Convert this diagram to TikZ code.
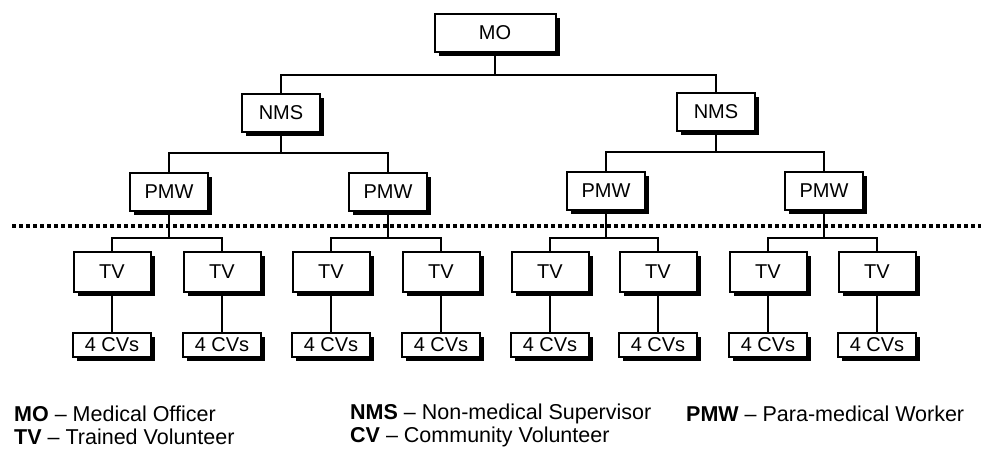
\documentclass[tikz,border=0pt]{standalone}
\usepackage{fontspec}
\setmainfont{Liberation Sans}
\usetikzlibrary{shadows}
\tikzset{
  box/.style={draw=black, line width=2pt, fill=white, inner sep=0pt,
    font=\fontsize{20}{23}\selectfont,
    drop shadow={shadow xshift=4pt, shadow yshift=-4pt, opacity=1, fill=black}},
  mobox/.style={box, minimum width=121pt, minimum height=38pt},
  nmsbox/.style={box, minimum width=78pt, minimum height=38pt},
  pmwbox/.style={box, minimum width=78pt, minimum height=38pt},
  tvbox/.style={box, minimum width=77pt, minimum height=40pt},
  cvbox/.style={box, minimum width=78pt, minimum height=24pt},
  link/.style={draw=black, line width=2pt},
  sep/.style={draw=black, line width=4pt, dash pattern=on 4pt off 3pt},
  legend/.style={anchor=west, inner sep=0pt, font=\fontsize{21.5}{25}\selectfont}
}
\begin{document}
\begin{tikzpicture}[x=1pt, y=-1pt]
\useasboundingbox (0,0) rectangle (981,461);
% separator
\coordinate (sepL) at (12,226);
\coordinate (sepR) at (981,226);
\draw[sep] (sepL) -- (sepR);
% nodes
\node[mobox] (mo) at (495,33) {MO};
\node[nmsbox] (nms1) at (281,113) {NMS};
\node[nmsbox] (nms2) at (716,112) {NMS};
\node[pmwbox] (p1) at (169,192) {PMW};
\node[pmwbox] (p2) at (388,192) {PMW};
\node[pmwbox] (p3) at (606,191) {PMW};
\node[pmwbox] (p4) at (824,191) {PMW};
\foreach \i/\x in {1/112,2/222,3/331,4/441,5/550,6/658,7/768,8/877}{
  \node[tvbox] (tv\i) at (\x,272) {TV};
  \node[cvbox] (cv\i) at (\x,345) {4 CVs};
}
% junctions
\coordinate (j0) at (496,75);
\coordinate (j1) at (281,153);
\coordinate (j2) at (716,152);
\coordinate (k1) at (169,238);
\coordinate (k2) at (388,238);
\coordinate (k3) at (606,238);
\coordinate (k4) at (824,238);
% connectors
\draw[link] (mo.south) -- (mo.south |- j0);
\draw[link] (nms1.north) |- (j0) -| (nms2.north);
\draw[link] (nms1.south) -- (j1);
\draw[link] (p1.north) |- (j1) -| (p2.north);
\draw[link] (nms2.south) -- (j2);
\draw[link] (p3.north) |- (j2) -| (p4.north);
\draw[link] (p1.south) -- (k1);
\draw[link] (tv1.north) |- (k1) -| (tv2.north);
\draw[link] (p2.south) -- (k2);
\draw[link] (tv3.north) |- (k2) -| (tv4.north);
\draw[link] (p3.south) -- (k3);
\draw[link] (tv5.north) |- (k3) -| (tv6.north);
\draw[link] (p4.south) -- (k4);
\draw[link] (tv7.north) |- (k4) -| (tv8.north);
\foreach \i in {1,...,8}{
  \draw[link] (tv\i.south) -- (cv\i.north);
}
% legend
\node[legend] (l1) at (14,414) {\textbf{MO} – Medical Officer};
\node[legend] (l2) at (350,414) {\textbf{NMS} – Non-medical Supervisor};
\node[legend] (l3) at (686,414) {\textbf{PMW} – Para-medical Worker};
\node[legend] (l4) at (14,437) {\textbf{TV} – Trained Volunteer};
\node[legend] (l5) at (350,437) {\textbf{CV} – Community Volunteer};
\end{tikzpicture}
\end{document}
